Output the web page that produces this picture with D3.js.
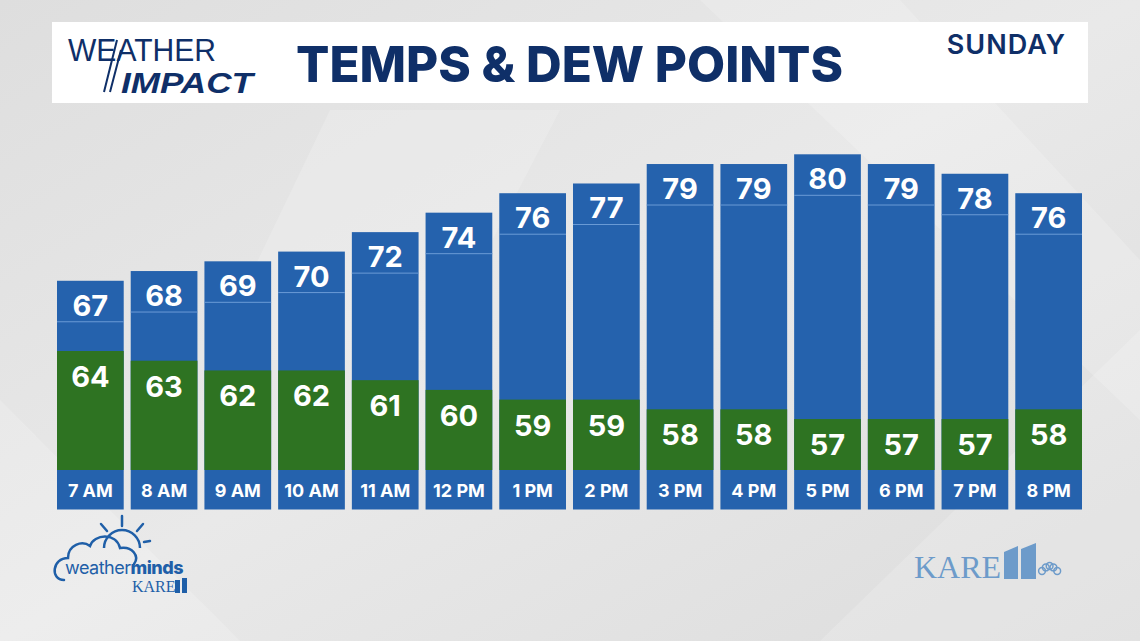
<!DOCTYPE html>
<html>
<head>
<meta charset="utf-8">
<script src="https://cdn.jsdelivr.net/npm/d3@7"></script>
<style>
  html, body { margin: 0; padding: 0; background: #e2e2e2; }
  svg { display: block; }
</style>
</head>
<body>
<div id="chart"></div>
<script>
// hours, temperature and dew point (F)
var hours = ["7 AM","8 AM","9 AM","10 AM","11 AM","12 PM","1 PM","2 PM","3 PM","4 PM","5 PM","6 PM","7 PM","8 PM"];
var temps = [67, 68, 69, 70, 72, 74, 76, 77, 79, 79, 80, 79, 78, 76];
var dewPoints = [64, 63, 62, 62, 61, 60, 59, 59, 58, 58, 57, 57, 57, 58];
var dayLabel = "SUNDAY";
var title = "TEMPS & DEW POINTS";

var W = 1140, H = 641;
var blue = "#2562ad", green = "#2e7322", navy = "#0f2f68";
var font = "Inter, 'Open Sans', sans-serif";
var logoFont = "'Liberation Sans', Arial, sans-serif";

var svg = d3.select("#chart").append("svg")
  .attr("width", W).attr("height", H);

// background
var defs = svg.append("defs");
var bg = defs.append("linearGradient").attr("id", "bg")
  .attr("x1", 0).attr("y1", 0).attr("x2", 1).attr("y2", 1);
bg.append("stop").attr("offset", 0).attr("stop-color", "#dedede");
bg.append("stop").attr("offset", 0.5).attr("stop-color", "#e9e9e9");
bg.append("stop").attr("offset", 1).attr("stop-color", "#dcdcdc");
svg.append("rect").attr("width", W).attr("height", H).attr("fill", "url(#bg)");

// faint diagonal panels
var panels = [
  [[0,400],[240,641],[0,641]],
  [[330,110],[560,110],[430,360],[210,360]],
  [[700,0],[900,0],[1140,260],[1140,420]],
  [[820,641],[1140,330],[1140,641]]
];
svg.selectAll("polygon.panel").data(panels).enter().append("polygon")
  .attr("class", "panel")
  .attr("points", function(d){ return d.map(function(p){ return p.join(","); }).join(" "); })
  .attr("fill", "#ffffff").attr("opacity", 0.18);

// header box
svg.append("rect").attr("x", 52).attr("y", 22).attr("width", 1036).attr("height", 81)
  .attr("fill", "#ffffff");

// weather impact logo
svg.append("text").attr("x", 68).attr("y", 60.5)
  .attr("textLength", 148).attr("lengthAdjust", "spacingAndGlyphs")
  .attr("font-family", logoFont).attr("font-size", 31)
  .attr("fill", navy).text("WEATHER");
svg.append("text").attr("x", 121).attr("y", 92.5)
  .attr("textLength", 132).attr("lengthAdjust", "spacingAndGlyphs")
  .attr("font-family", logoFont).attr("font-size", 29).attr("font-weight", 700)
  .attr("font-style", "italic").attr("fill", navy).text("IMPACT");
svg.append("path").attr("d", "M104,92 L117,40 M110,92 L121,50")
  .attr("stroke", navy).attr("stroke-width", 2).attr("fill", "none");

svg.append("text").attr("x", 296).attr("y", 82)
  .attr("textLength", 547).attr("lengthAdjust", "spacingAndGlyphs")
  .attr("font-family", font).attr("font-size", 50).attr("font-weight", 800)
  .attr("fill", navy).text(title);

svg.append("text").attr("x", 1066).attr("y", 54).attr("text-anchor", "end")
  .attr("font-family", font).attr("font-size", 27).attr("font-weight", 600)
  .attr("letter-spacing", 1)
  .attr("fill", navy).text(dayLabel);

// scales
var x = d3.scaleBand().domain(hours).range([57, 1082]).paddingInner(0.095).paddingOuter(0);
var base = 470;
var yT = d3.scaleLinear().domain([47.55, 80]).range([base, 154.3]);
var yD = d3.scaleLinear().domain([51.76, 64]).range([base, 351]);

var rows = hours.map(function(h, i){ return {hour: h, t: temps[i], d: dewPoints[i]}; });

var g = svg.append("g");
var col = g.selectAll("g.col").data(rows).enter().append("g")
  .attr("class", "col")
  .attr("transform", function(d){ return "translate(" + x(d.hour) + ",0)"; });

var bw = x.bandwidth();

// temperature bar
col.append("rect")
  .attr("y", function(d){ return yT(d.t); })
  .attr("width", bw)
  .attr("height", function(d){ return base - yT(d.t); })
  .attr("fill", blue);

// divider under temp value
col.append("line")
  .attr("x1", 0).attr("x2", bw)
  .attr("y1", function(d){ return yT(d.t) + 41; })
  .attr("y2", function(d){ return yT(d.t) + 41; })
  .attr("stroke", "#6b9bd6").attr("stroke-width", 1);

// dew point bar
col.append("rect")
  .attr("y", function(d){ return yD(d.d); })
  .attr("width", bw)
  .attr("height", function(d){ return base - yD(d.d); })
  .attr("fill", green);

// hour box
col.append("rect")
  .attr("y", base).attr("width", bw).attr("height", 39.5)
  .attr("fill", blue);

col.append("text")
  .attr("x", bw / 2).attr("y", function(d){ return yT(d.t) + 35; })
  .attr("text-anchor", "middle")
  .attr("font-family", font).attr("font-size", 29).attr("font-weight", 700)
  .attr("fill", "#ffffff")
  .text(function(d){ return d.t; });

col.append("text")
  .attr("x", bw / 2).attr("y", function(d){ return yD(d.d) + 36; })
  .attr("text-anchor", "middle")
  .attr("font-family", font).attr("font-size", 29).attr("font-weight", 700)
  .attr("fill", "#ffffff")
  .text(function(d){ return d.d; });

col.append("text")
  .attr("x", bw / 2).attr("y", base + 27)
  .attr("text-anchor", "middle")
  .attr("font-family", font).attr("font-size", 18).attr("font-weight", 700)
  .attr("fill", "#ffffff")
  .text(function(d){ return d.hour; });

// weatherminds logo (bottom left)
var wm = svg.append("g");
var lb = "#1f5fa8";
// sun
wm.append("path").attr("d", "M104,548 A18,18 0 0 1 140,548")
  .attr("fill", "none").attr("stroke", lb).attr("stroke-width", 2.5);
var rays = [[122,516,122,526],[101,524,107,531],[143,524,137,531],[150,541,144,542]];
wm.selectAll("line.ray").data(rays).enter().append("line")
  .attr("x1", function(d){return d[0];}).attr("y1", function(d){return d[1];})
  .attr("x2", function(d){return d[2];}).attr("y2", function(d){return d[3];})
  .attr("stroke", lb).attr("stroke-width", 2.5).attr("stroke-linecap", "round");
// cloud
wm.append("path")
  .attr("d", "M64,580 C50,580 52,558 68,558 C68,545 82,540 90,546 C94,534 116,532 120,548 C132,546 140,556 134,564")
  .attr("fill", "none").attr("stroke", lb).attr("stroke-width", 2.5).attr("stroke-linecap", "round");
wm.append("text").attr("x", 65).attr("y", 574)
  .attr("font-family", font).attr("font-size", 18).attr("fill", lb)
  .attr("letter-spacing", -0.5)
  .html("weather<tspan font-weight='800'>minds</tspan>");
wm.append("text").attr("x", 132).attr("y", 592)
  .attr("font-family", "'Liberation Serif', serif").attr("font-size", 16)
  .attr("fill", lb).text("KARE");
wm.append("rect").attr("x", 175).attr("y", 580).attr("width", 5).attr("height", 13).attr("fill", lb);
wm.append("rect").attr("x", 182).attr("y", 578).attr("width", 5).attr("height", 15).attr("fill", lb);

// KARE 11 logo (bottom right)
var kb = "#6d9bca";
svg.append("text").attr("x", 914).attr("y", 578)
  .attr("textLength", 87).attr("lengthAdjust", "spacingAndGlyphs")
  .attr("font-family", "'Liberation Serif', serif").attr("font-size", 31)
  .attr("fill", kb).text("KARE");
svg.append("path").attr("d", "M1004,552 L1018,546 L1018,579 L1004,579 Z").attr("fill", kb);
svg.append("path").attr("d", "M1021,549 L1036,543 L1036,579 L1021,579 Z").attr("fill", kb);
svg.selectAll("circle.pk").data([0,1,2,3,4]).enter().append("circle")
  .attr("class", "pk")
  .attr("cx", function(d){ return 1042 + d * 3.8; })
  .attr("cy", function(d){ return 571 - Math.sin(d / 4 * Math.PI) * 5; })
  .attr("r", 3.4).attr("fill", "none").attr("stroke", kb).attr("stroke-width", 1.5);
</script>
</body>
</html>
